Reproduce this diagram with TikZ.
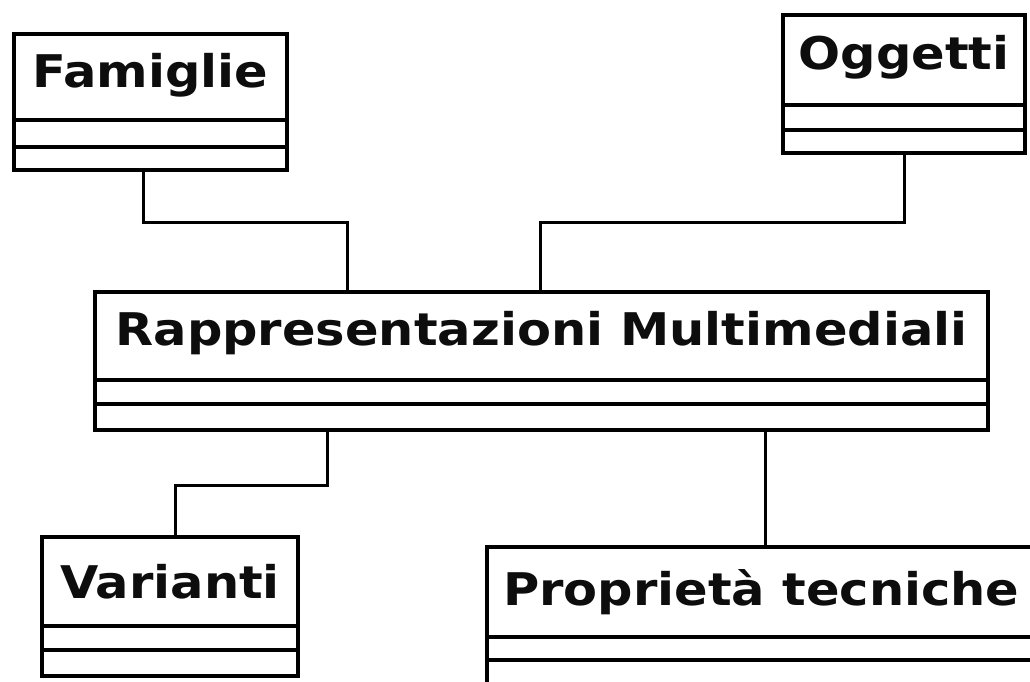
\documentclass[tikz,border=0pt]{standalone}
\usepackage{fontspec}
\newfontfamily\umlfont[FakeStretch=1.1]{DejaVu Sans}
\begin{document}
\begin{tikzpicture}[x=1pt,y=-1pt,
  compart/.style={draw=black, line width=3.3pt, fill=white, inner sep=0pt, outer sep=0pt, anchor=north west},
  classname/.style={anchor=base, inner sep=0pt, text=black!95,
    font=\umlfont\bfseries\fontsize{45}{54}\selectfont},
  link/.style={draw=black, line width=3pt}]
\path[use as bounding box] (0,0) rectangle (1030,682);
\clip (0,0) rectangle (1030,682);

% Famiglie
\node[compart, minimum width=273pt, minimum height=86pt] (fam) at (14,34) {};
\node[compart, minimum width=273pt, minimum height=27pt] (famA) at (fam.south west) {};
\node[compart, minimum width=273pt, minimum height=23pt] (famB) at (famA.south west) {};
\node[classname] (famT) at (150.5,88) {Famiglie};

% Oggetti
\node[compart, minimum width=242pt, minimum height=90pt] (ogg) at (783,15) {};
\node[compart, minimum width=242pt, minimum height=25pt] (oggA) at (ogg.south west) {};
\node[compart, minimum width=242pt, minimum height=23pt] (oggB) at (oggA.south west) {};
\node[classname] (oggT) at (904,70) {Oggetti};

% Rappresentazioni Multimediali
\node[compart, minimum width=893pt, minimum height=88pt] (rm) at (95,292) {};
\node[compart, minimum width=893pt, minimum height=24pt] (rmA) at (rm.south west) {};
\node[compart, minimum width=893pt, minimum height=26pt] (rmB) at (rmA.south west) {};
\node[classname] (rmT) at (541.5,345) {Rappresentazioni Multimediali};

% Varianti
\node[compart, minimum width=256pt, minimum height=89pt] (var) at (42,537) {};
\node[compart, minimum width=256pt, minimum height=24pt] (varA) at (var.south west) {};
\node[compart, minimum width=256pt, minimum height=26pt] (varB) at (varA.south west) {};
\node[classname] (varT) at (170,598) {Varianti};

% Proprieta tecniche
\node[compart, minimum width=560pt, minimum height=90pt] (prop) at (487,547) {};
\node[compart, minimum width=560pt, minimum height=23pt] (propA) at (prop.south west) {};
\node[compart, minimum width=560pt, minimum height=26pt] (propB) at (propA.south west) {};
\node[classname, anchor=base west] (propT) at (503,605) {Proprietà tecniche};

% associations
\coordinate (kf) at (347,222);
\coordinate (ko) at (540,222);
\coordinate (kv) at (327,485);
\coordinate (kp) at (765,0);
\draw[link] ([xshift=-7.5pt]famB.south) |- (kf) -- (kf |- rm.north);
\draw[link] (oggB.south) |- (ko) -- (ko |- rm.north);
\draw[link] (kv |- rmB.south) -- (kv) -| ([xshift=5pt]var.north);
\draw[link] (kp |- rmB.south) -- (kp |- prop.north);
\end{tikzpicture}
\end{document}
